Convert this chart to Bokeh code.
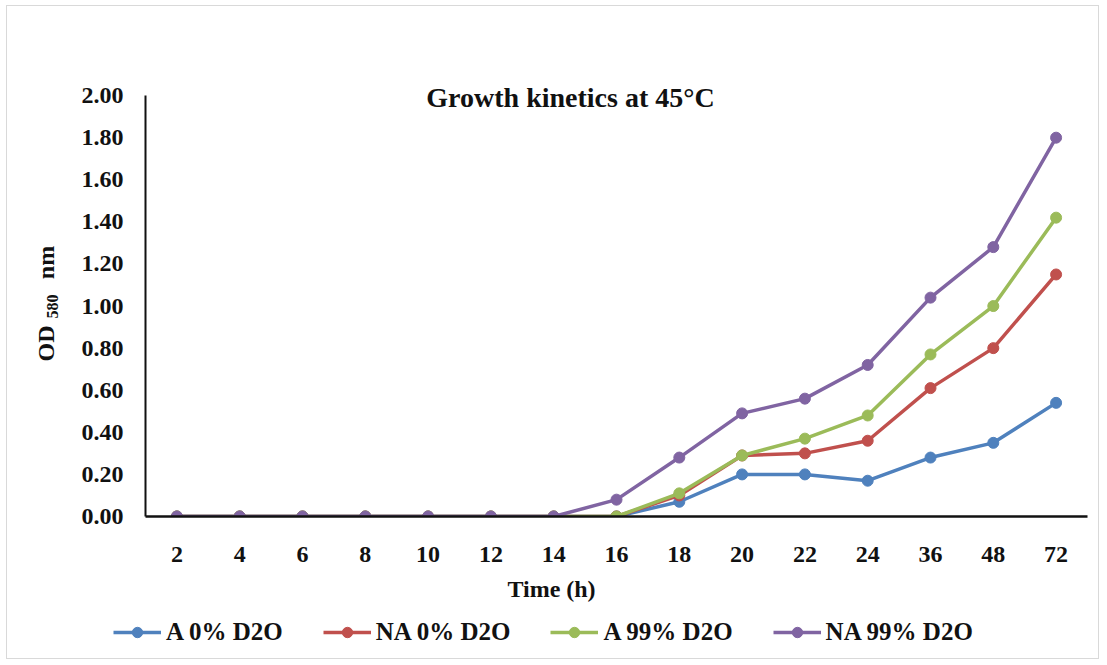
import math
from bokeh.plotting import figure
from bokeh.models import (FactorRange, Range1d, FixedTicker, NumeralTickFormatter,
                          Legend, LegendItem, Label)
from bokeh.embed import file_html
from bokeh.resources import INLINE

hours = ["2", "4", "6", "8", "10", "12", "14", "16", "18", "20", "22", "24", "36", "48", "72"]
a_0 = [0, 0, 0, 0, 0, 0, 0, 0.00, 0.07, 0.20, 0.20, 0.17, 0.28, 0.35, 0.54]
na_0 = [0, 0, 0, 0, 0, 0, 0, 0.00, 0.10, 0.29, 0.30, 0.36, 0.61, 0.80, 1.15]
a_99 = [0, 0, 0, 0, 0, 0, 0, 0.00, 0.11, 0.29, 0.37, 0.48, 0.77, 1.00, 1.42]
na_99 = [0, 0, 0, 0, 0, 0, 0, 0.08, 0.28, 0.49, 0.56, 0.72, 1.04, 1.28, 1.80]
series_names = ["A 0% D2O", "NA 0% D2O", "A 99% D2O", "NA 99% D2O"]
series_values = [a_0, na_0, a_99, na_99]
series_colors = ["#4F81BD", "#C0504D", "#9BBB59", "#8064A2"]
y_ticks = [0.0, 0.2, 0.4, 0.6, 0.8, 1.0, 1.2, 1.4, 1.6, 1.8, 2.0]

FONT = "Liberation Serif"
TXT = "#111111"
W, H = 1093, 654

# ---- main chart: axes and data ----
p = figure(width=W, height=H, x_range=FactorRange(*hours), y_range=Range1d(0, 2.2),
           output_backend="svg", toolbar_location=None,
           min_border_left=138, min_border_right=13, min_border_top=47, min_border_bottom=144)
p.styles = {"border": "1px solid #d9d9d9", "margin-left": "6px", "margin-top": "5px"}
p.outline_line_color = None
p.xgrid.grid_line_color = None
p.ygrid.grid_line_color = None

for ax in (p.xaxis[0], p.yaxis[0]):
    ax.major_tick_line_color = None
    ax.minor_tick_line_color = None
    ax.major_label_text_font = FONT
    ax.major_label_text_font_style = "bold"
    ax.major_label_text_font_size = "24px"
    ax.major_label_text_color = TXT
    ax.axis_line_color = TXT
p.xaxis.axis_line_width = 2.5
p.yaxis.axis_line_width = 2
p.xaxis.major_label_standoff = 24
p.yaxis.major_label_standoff = 16
p.yaxis.bounds = (0, 2.0)
p.yaxis.ticker = FixedTicker(ticks=y_ticks)
p.yaxis.formatter = NumeralTickFormatter(format="0.00")

for vals, col in zip(series_values, series_colors):
    p.line(hours, vals, line_color=col, line_width=3.5)
    p.scatter(hours, vals, marker="circle", size=11, fill_color=col, line_color=col)

# ---- overlay layer: titles and legend (transparent, placed over the chart) ----
q = figure(width=W, height=H, x_range=FactorRange(*hours), y_range=Range1d(10, 11),
           output_backend="svg", toolbar_location=None, x_axis_type=None, y_axis_type=None,
           min_border=0, min_border_left=0, min_border_right=0, min_border_top=0,
           min_border_bottom=0)
q.styles = {"position": "absolute", "left": "7px", "top": "6px", "pointer-events": "none"}
q.outline_line_color = None
q.xgrid.grid_line_color = None
q.ygrid.grid_line_color = None
q.background_fill_alpha = 0
q.border_fill_alpha = 0

items = []
for name, vals, col in zip(series_names, series_values, series_colors):
    lr = q.line(hours, vals, line_color=col, line_width=3.5)
    sr = q.scatter(hours, vals, marker="circle", size=11, fill_color=col, line_color=col)
    items.append(LegendItem(label=name, renderers=[lr, sr]))

legend = Legend(items=items, orientation="horizontal", location=(106, 14),
                label_text_font=FONT, label_text_font_style="bold",
                label_text_font_size="25px", label_text_color=TXT,
                glyph_width=48, glyph_height=26, label_height=26, label_standoff=5, spacing=40,
                padding=0, margin=0, border_line_color=None, background_fill_alpha=0)
q.add_layout(legend, "center")

q.add_layout(Label(x=563, y=563, x_units="screen", y_units="screen",
                   text="Growth kinetics at 45°C", text_font=FONT, text_font_style="bold",
                   text_font_size="28px", text_align="center", text_baseline="middle",
                   text_color=TXT))
q.add_layout(Label(x=544, y=72, x_units="screen", y_units="screen",
                   text="Time (h)", text_font=FONT, text_font_style="bold",
                   text_font_size="24px", text_align="center", text_baseline="middle",
                   text_color=TXT))
for txt, xx, yy, fs in [("OD", 38, 317, "24px"), ("580", 45, 354, "16px"), ("nm", 38, 398, "24px")]:
    q.add_layout(Label(x=xx, y=yy, x_units="screen", y_units="screen", text=txt,
                       text_font=FONT, text_font_style="bold", text_font_size=fs,
                       angle=math.pi / 2, text_align="center", text_baseline="middle",
                       text_color=TXT))

open("out.html", "w").write(file_html([p, q], INLINE))
